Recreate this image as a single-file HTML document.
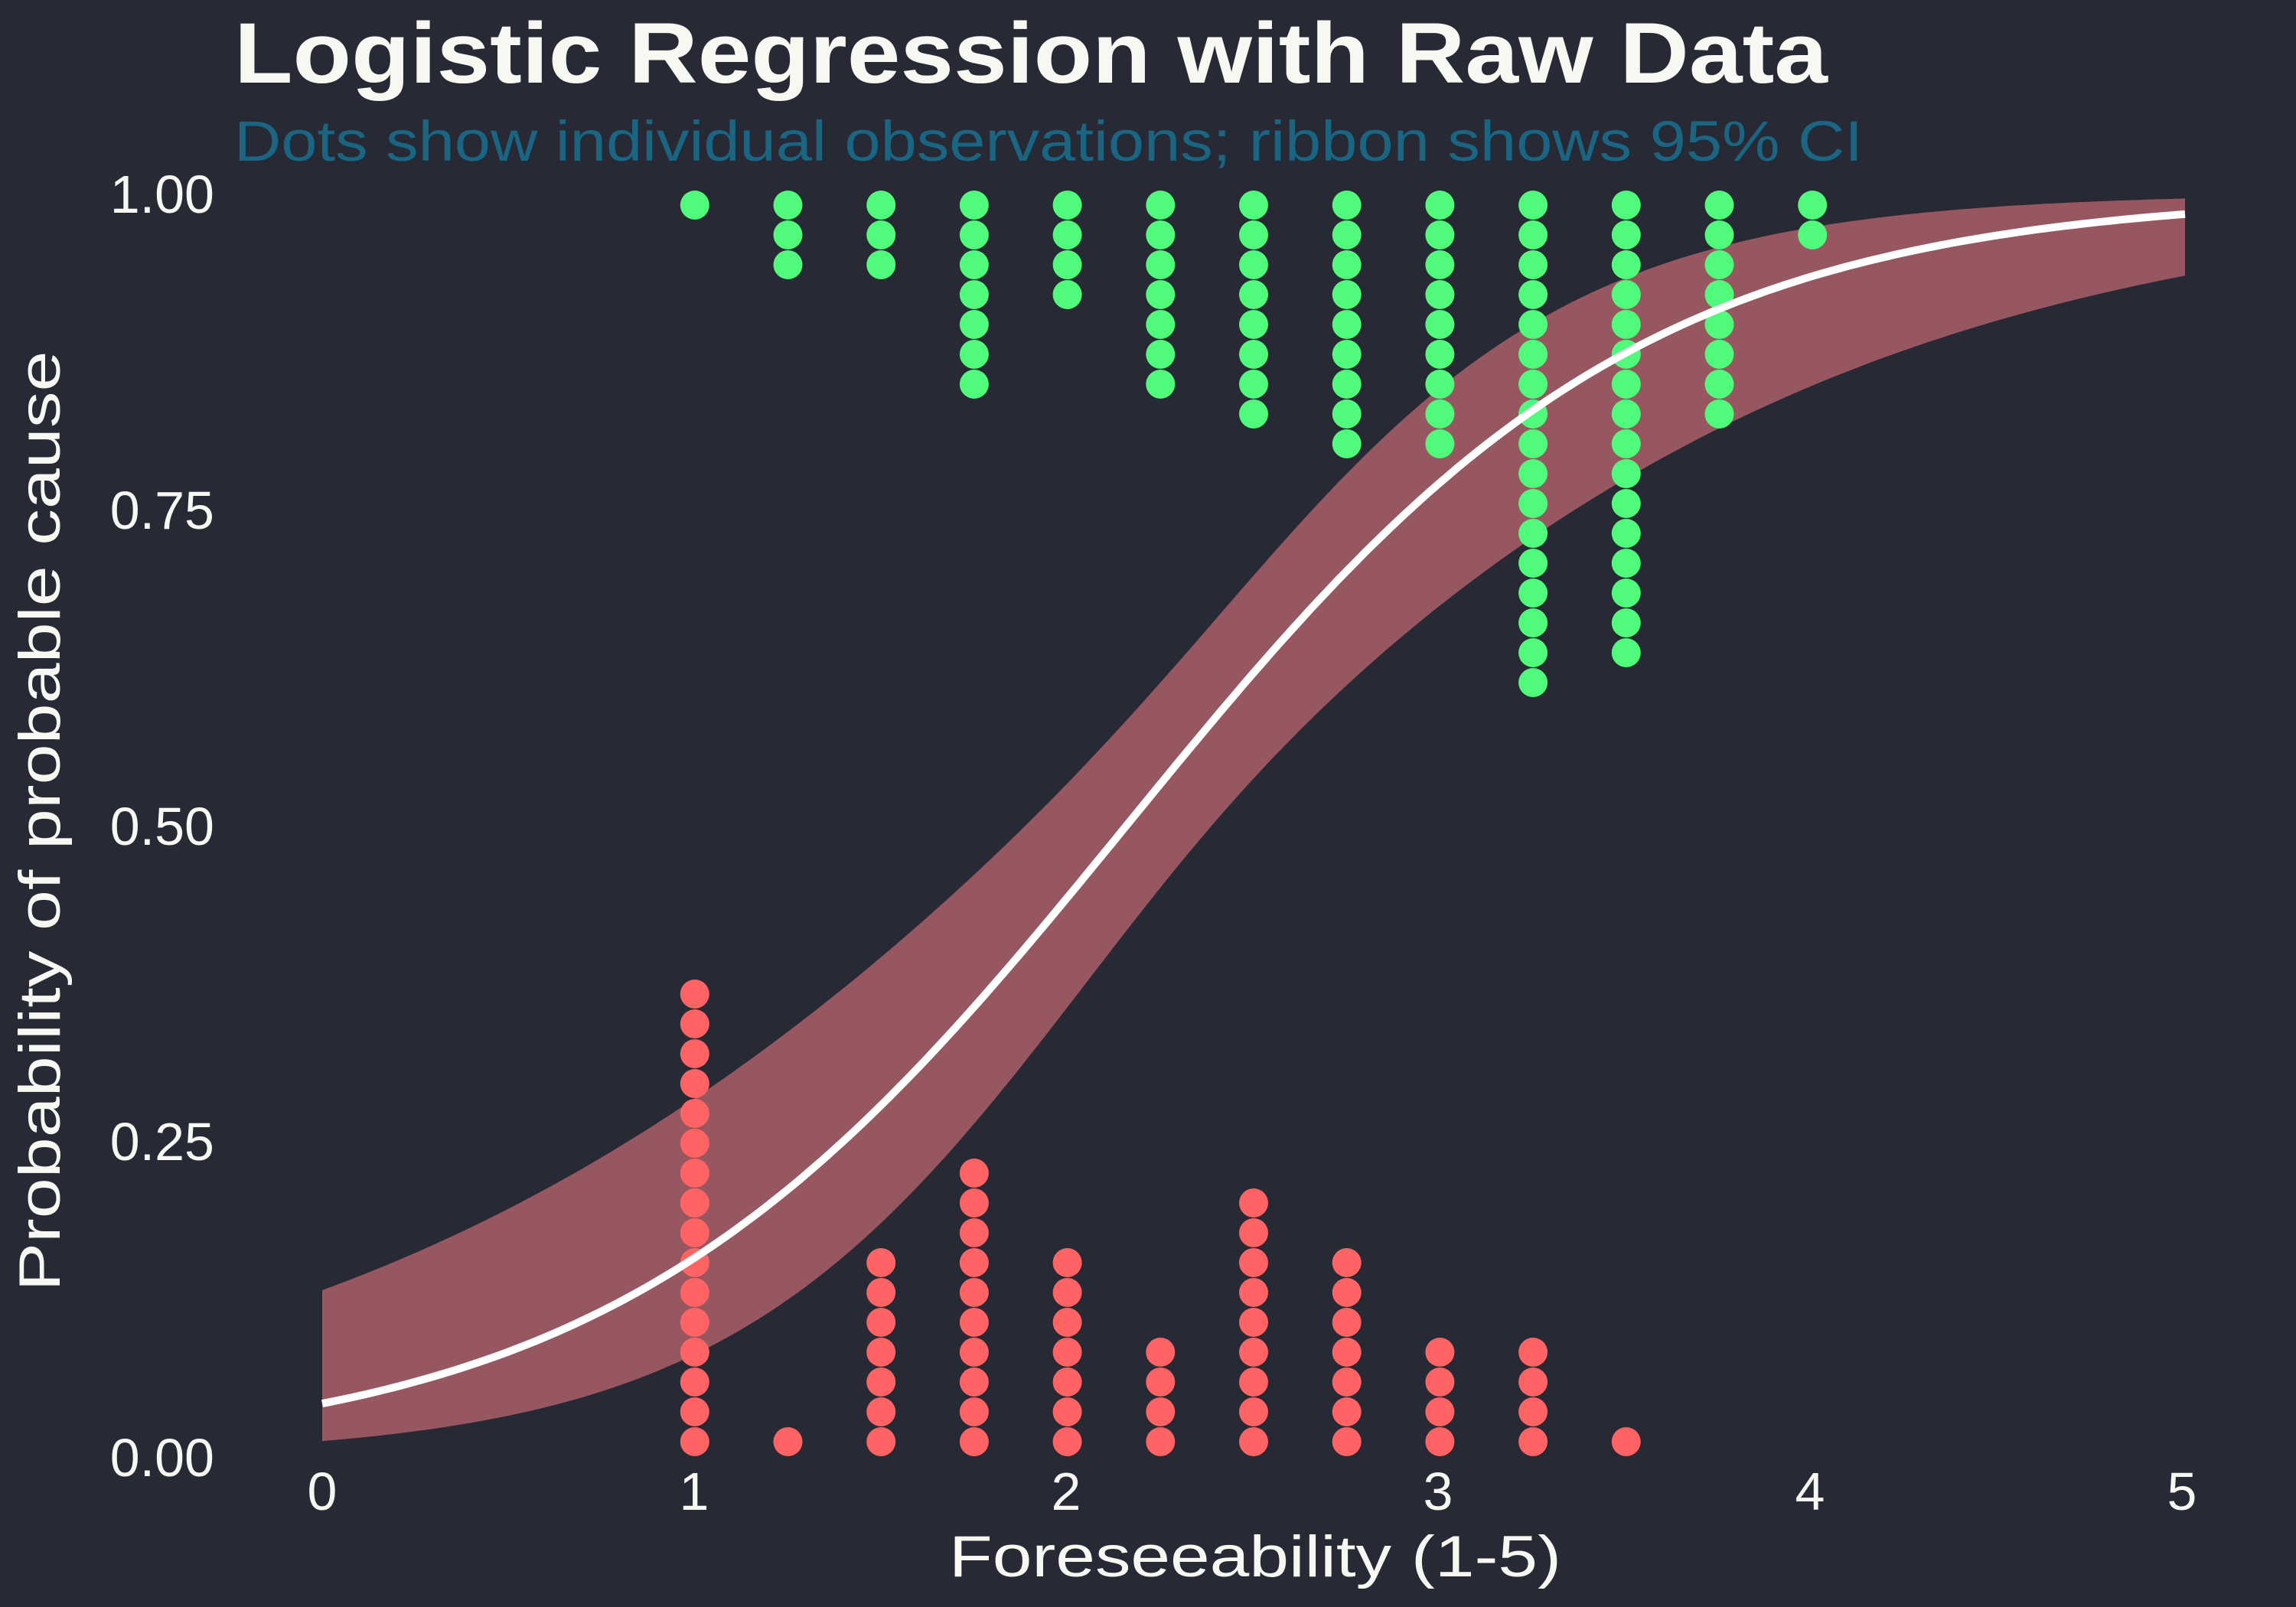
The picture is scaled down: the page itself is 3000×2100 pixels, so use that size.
<!DOCTYPE html>
<html><head><meta charset="utf-8"><style>
html,body{margin:0;padding:0;background:#272935;}
svg{display:block;}
text{font-family:"Liberation Sans",sans-serif;}
</style></head><body>
<svg id="s" width="3000" height="2100" xmlns="http://www.w3.org/2000/svg">
<rect width="3000" height="2100" fill="#272935"/>
<g id="plot"></g>
<text x="306" y="108" font-size="112" font-weight="bold" fill="#f8f8f2" textLength="2082" lengthAdjust="spacingAndGlyphs">Logistic Regression with Raw Data</text>
<text x="306" y="210" font-size="74" fill="#1a6582" textLength="2128" lengthAdjust="spacingAndGlyphs">Dots show individual observations; ribbon shows 95% CI</text>
<g font-size="70" fill="#f8f8f2" text-anchor="end">
<text x="280" y="278">1.00</text>
<text x="280" y="691">0.75</text>
<text x="280" y="1104">0.50</text>
<text x="280" y="1516">0.25</text>
<text x="280" y="1929">0.00</text>
</g>
<g font-size="70" fill="#f8f8f2" text-anchor="middle">
<text x="421" y="1973">0</text>
<text x="907" y="1973">1</text>
<text x="1393" y="1973">2</text>
<text x="1879" y="1973">3</text>
<text x="2365" y="1973">4</text>
<text x="2851" y="1973">5</text>
</g>
<text x="1640" y="2060" font-size="76" fill="#f8f8f2" text-anchor="middle" textLength="800" lengthAdjust="spacingAndGlyphs">Foreseeability (1-5)</text>
<text transform="translate(78,1073) rotate(-90)" font-size="76" fill="#f8f8f2" text-anchor="middle" textLength="1229" lengthAdjust="spacingAndGlyphs">Probability of probable cause</text>
</svg>
<script>
(function(){
var X=function(x){return 421+486.8*x;}, Y=function(p){return 1904-1651*p;};
var L=function(z){return 1/(1+Math.exp(-z));};
var b0=-3.12,b1=1.445;
var up=[],lo=[],ln=[];
for(var i=0;i<=200;i++){
 var x=5*i/200, z=b0+b1*x, dx=x-2.3, se=Math.sqrt(0.028+0.07*dx*dx), h=1.96*se;
 up.push(X(x).toFixed(1)+","+Y(L(z+h)).toFixed(1));
 lo.push(X(x).toFixed(1)+","+Y(L(z-h)).toFixed(1));
 ln.push(X(x).toFixed(1)+","+Y(L(z)).toFixed(1));
}
var s='<path d="M'+up.join(" L")+" L"+lo.reverse().join(" L")+' Z" fill="#965760"/>';
var g=[[1,1],[1.25,3],[1.5,3],[1.75,7],[2,4],[2.25,7],[2.5,8],[2.75,9],[3,9],[3.25,17],[3.5,16],[3.75,8],[4,2]];
var r=[[1,16],[1.25,1],[1.5,7],[1.75,10],[2,7],[2.25,4],[2.5,9],[2.75,7],[3,4],[3.25,4],[3.5,1]];
g.forEach(function(c){for(var k=0;k<c[1];k++)s+='<circle cx="'+X(c[0])+'" cy="'+(268+39*k)+'" r="19" fill="#50fa7b"/>';});
r.forEach(function(c){for(var k=0;k<c[1];k++)s+='<circle cx="'+X(c[0])+'" cy="'+(1884-39*k)+'" r="19" fill="#ff6363"/>';});
s+='<polyline points="'+ln.join(" ")+'" fill="none" stroke="#ffffff" stroke-width="10"/>';
document.getElementById("plot").innerHTML=s;
})();
</script>
</body></html>
